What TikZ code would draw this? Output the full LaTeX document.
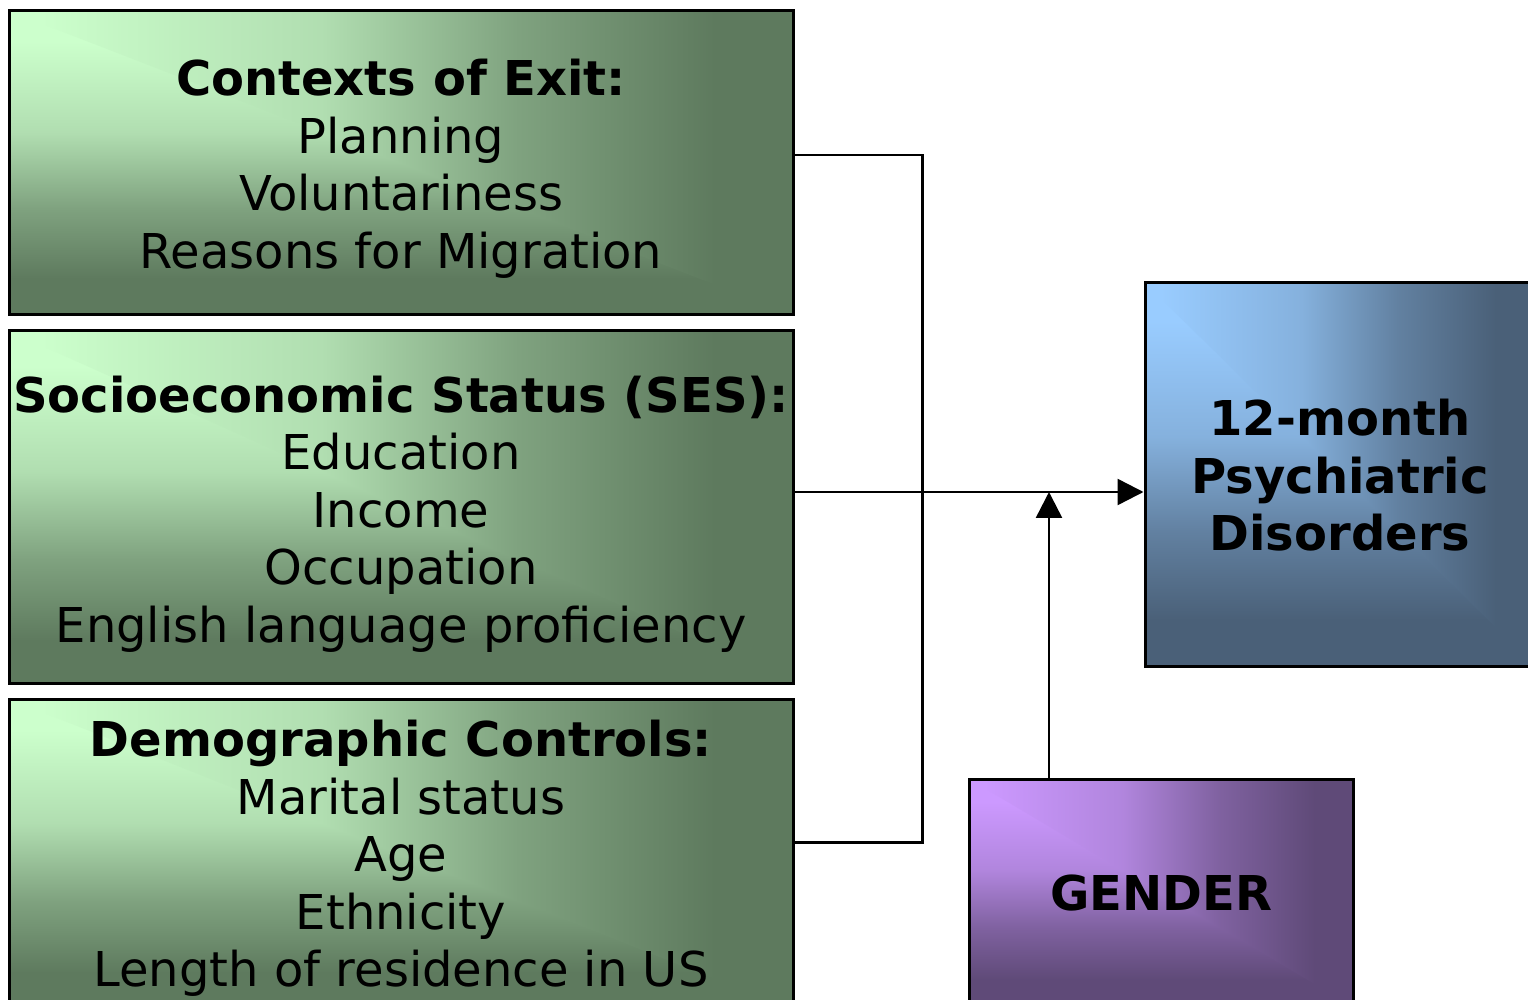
\documentclass[tikz,border=0pt]{standalone}
\usepackage{fontspec}
\setmainfont{DejaVu Sans}
\usetikzlibrary{arrows.meta}

% Corner gradients: light at the top-left corner, darkening towards the
% right and bottom edges (vertical shading below the diagonal, horizontal above).
\newcommand\mkgradient[3]{%
  \colorlet{#1L}{#2}\colorlet{#1D}{#3}%
  \colorlet{#1M}{#1L!75!#1D}\colorlet{#1N}{#1L!30!#1D}%
  \pgfdeclarehorizontalshading{#1H}{100bp}{color(0bp)=(#1L); color(27bp)=(#1L);
    color(45bp)=(#1M); color(57.5bp)=(#1N); color(70bp)=(#1D); color(100bp)=(#1D)}%
  \pgfdeclareverticalshading{#1V}{100bp}{color(0bp)=(#1D); color(31bp)=(#1D);
    color(42.5bp)=(#1N); color(55bp)=(#1M); color(70bp)=(#1L); color(100bp)=(#1L)}%
}
\definecolor{grnlight}{HTML}{CCFFCC}\definecolor{grndark}{HTML}{5E7A5E}
\definecolor{blulight}{HTML}{99CCFF}\definecolor{bludark}{HTML}{4A6078}
\definecolor{purlight}{HTML}{CC99FF}\definecolor{purdark}{HTML}{5F4A78}
\mkgradient{grn}{grnlight}{grndark}
\mkgradient{blu}{blulight}{bludark}
\mkgradient{pur}{purlight}{purdark}

\tikzset{
  gradfill/.style={path picture={
    \shade[shading=#1V] (path picture bounding box.north west)
      rectangle (path picture bounding box.south east);
    \shade[shading=#1H] (path picture bounding box.north west)
      -- (path picture bounding box.north east)
      -- (path picture bounding box.south east) -- cycle;
  }},
  factorbox/.style={draw=black, line width=1.5pt, inner sep=0pt},
  boxtext/.style={align=center, inner sep=0pt, font=\fontsize{24}{28.75}\selectfont},
  conn/.style={draw=black, line width=1.25pt},
  tip/.style={-{Triangle[length=13pt,width=13pt]}},
}

\begin{document}
\begin{tikzpicture}[x=0.5pt,y=-0.5pt]
\useasboundingbox (0,0) rectangle (1528,1000);

% predictor blocks
\node[factorbox, gradfill=grn, minimum width=392pt, minimum height=152pt,
  label={[boxtext, yshift=-3pt]center:{\textbf{Contexts of Exit:}\\Planning\\Voluntariness\\Reasons for Migration}}]
  (ctx) at (401,163) {};
\node[factorbox, gradfill=grn, minimum width=392pt, minimum height=176pt,
  label={[boxtext, yshift=-3.5pt]center:{\textbf{Socioeconomic Status (SES):}\\Education\\Income\\Occupation\\English language proficiency}}]
  (ses) at (401,507) {};
\node[factorbox, gradfill=grn, minimum width=392pt, minimum height=155.5pt,
  label={[boxtext, yshift=-2pt]center:{\textbf{Demographic Controls:}\\Marital status\\Age\\Ethnicity\\Length of residence in US}}]
  (demo) at (401,854.5) {};

% outcome and moderator
\node[factorbox, gradfill=blu, minimum width=195pt, minimum height=191.5pt,
  label={[boxtext, yshift=-0.5pt]center:{\textbf{12-month}\\\textbf{Psychiatric}\\\textbf{Disorders}}}]
  (out) at (1340,474.5) {};
\node[factorbox, gradfill=pur, minimum width=192pt, minimum height=114pt,
  label={[boxtext]center:{\textbf{GENDER}}}]
  (gen) at (1161,893) {};

% connectors
\draw[conn] ([yshift=4pt]ctx.east) -- ++(128,0) |- ([yshift=6pt]demo.east);
\coordinate (main) at ([yshift=7.5pt]ses.east);
\draw[conn, tip] (main) -- (main -| out.west);
\draw[conn, tip] ([xshift=-56pt]gen.north) -- ([xshift=-56pt]gen.north |- main);
\end{tikzpicture}
\end{document}
